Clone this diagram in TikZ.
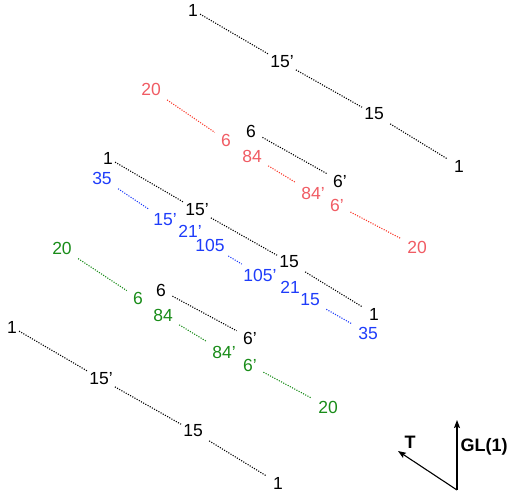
\documentclass[tikz,border=0pt]{standalone}
\usepackage{fontspec}
\setmainfont{Liberation Sans}
\usepackage{tikz}
\usetikzlibrary{arrows.meta, positioning}
\definecolor{WtRed}{RGB}{240,92,100}
\definecolor{WtRedLine}{RGB}{250,60,45}
\definecolor{WtBlue}{RGB}{30,60,250}
\definecolor{WtGreen}{RGB}{25,140,25}

\begin{document}
\begin{tikzpicture}[x=1pt, y=-1pt,
      wt/.style={inner sep=2pt, font=\fontsize{17.5}{20}\selectfont},
      dots/.style={line width=1.1pt, dash pattern=on 1.1pt off 1.4pt,
                   shorten <=5pt, shorten >=5pt},
      axlbl/.style={inner sep=1pt, font=\fontsize{18}{20}\selectfont\bfseries},
      ax/.style={-{Stealth[length=8pt, width=6pt, inset=1.5pt]}, line width=1.1pt}
    ]
    \useasboundingbox (0,0) rectangle (510,492);

    % Black chains 1 - 15' - 15 - 1
    \foreach \c/\x/\y in {top/193/10, mid/108/158, bot/12/327} {
      \node[wt] (\c1) at (\x,\y) {1};
      \node[wt] (\c2) at (\x+89,\y+52) {15’};
      \node[wt] (\c3) at (\x+181,\y+104) {15};
      \node[wt] (\c4) at (\x+266,\y+156) {1};
      \draw[dots] (\c1) -- (\c2) -- (\c3) -- (\c4);
    }

    % Black 6 - 6'
    \node[wt] (hi6) at (251,131) {6};
    \node[wt] (hi6p) at (340,181) {6’};
    \draw[dots] (hi6) -- (hi6p);
    \node[wt] (lo6) at (161,290) {6};
    \node[wt] (lo6p) at (250,338) {6’};
    \draw[dots] (lo6) -- (lo6p);

    % Red
    \node[wt, WtRed] (r20) at (151,89) {20};
    \node[wt, WtRed] (r6) at (226,140) {6};
    \node[wt, WtRed] (r84) at (252,156) {84};
    \node[wt, WtRed] (r84p) at (313,193) {84’};
    \node[wt, WtRed] (r6p) at (337,205) {6’};
    \node[wt, WtRed] (r20b) at (417,247) {20};
    \draw[dots, WtRedLine] (r20) -- (r6);
    \draw[dots, WtRedLine] (r84) -- (r84p);
    \draw[dots, WtRedLine] (r6p) -- (r20b);

    % Blue
    \node[wt, WtBlue] (b35) at (102,178) {35};
    \node[wt, WtBlue] (b15p) at (165,220) {15’};
    \node[wt, WtBlue] (b21p) at (190,231) {21’};
    \node[wt, WtBlue] (b105) at (210,245) {105};
    \node[wt, WtBlue] (b105p) at (260,275) {105’};
    \node[wt, WtBlue] (b21) at (290,287) {21};
    \node[wt, WtBlue] (b15) at (310,300) {15};
    \node[wt, WtBlue] (b35b) at (368,333) {35};
    \draw[dots, WtBlue] (b35) -- (b15p);
    \draw[dots, WtBlue] (b105) -- (b105p);
    \draw[dots, WtBlue] (b15) -- (b35b);

    % Green
    \node[wt, WtGreen] (g20) at (62,248) {20};
    \node[wt, WtGreen] (g6) at (138,298) {6};
    \node[wt, WtGreen] (g84) at (163,315) {84};
    \node[wt, WtGreen] (g84p) at (224,352) {84’};
    \node[wt, WtGreen] (g6p) at (250,365) {6’};
    \node[wt, WtGreen] (g20b) at (328,407) {20};
    \draw[dots, WtGreen] (g20) -- (g6);
    \draw[dots, WtGreen] (g84) -- (g84p);
    \draw[dots, WtGreen] (g6p) -- (g20b);

    % Axes
    \coordinate (orig) at (457,490);
    \coordinate (glend) at (457,420);
    \coordinate (tend) at (398,451);
    \draw[ax] (orig) -- (glend);
    \draw[ax] (orig) -- (tend);
    \node[axlbl] (tlbl) at (410,442) {T};
    \node[axlbl] (gllbl) at (484,447) {GL(1)};
  \end{tikzpicture}
\end{document}
